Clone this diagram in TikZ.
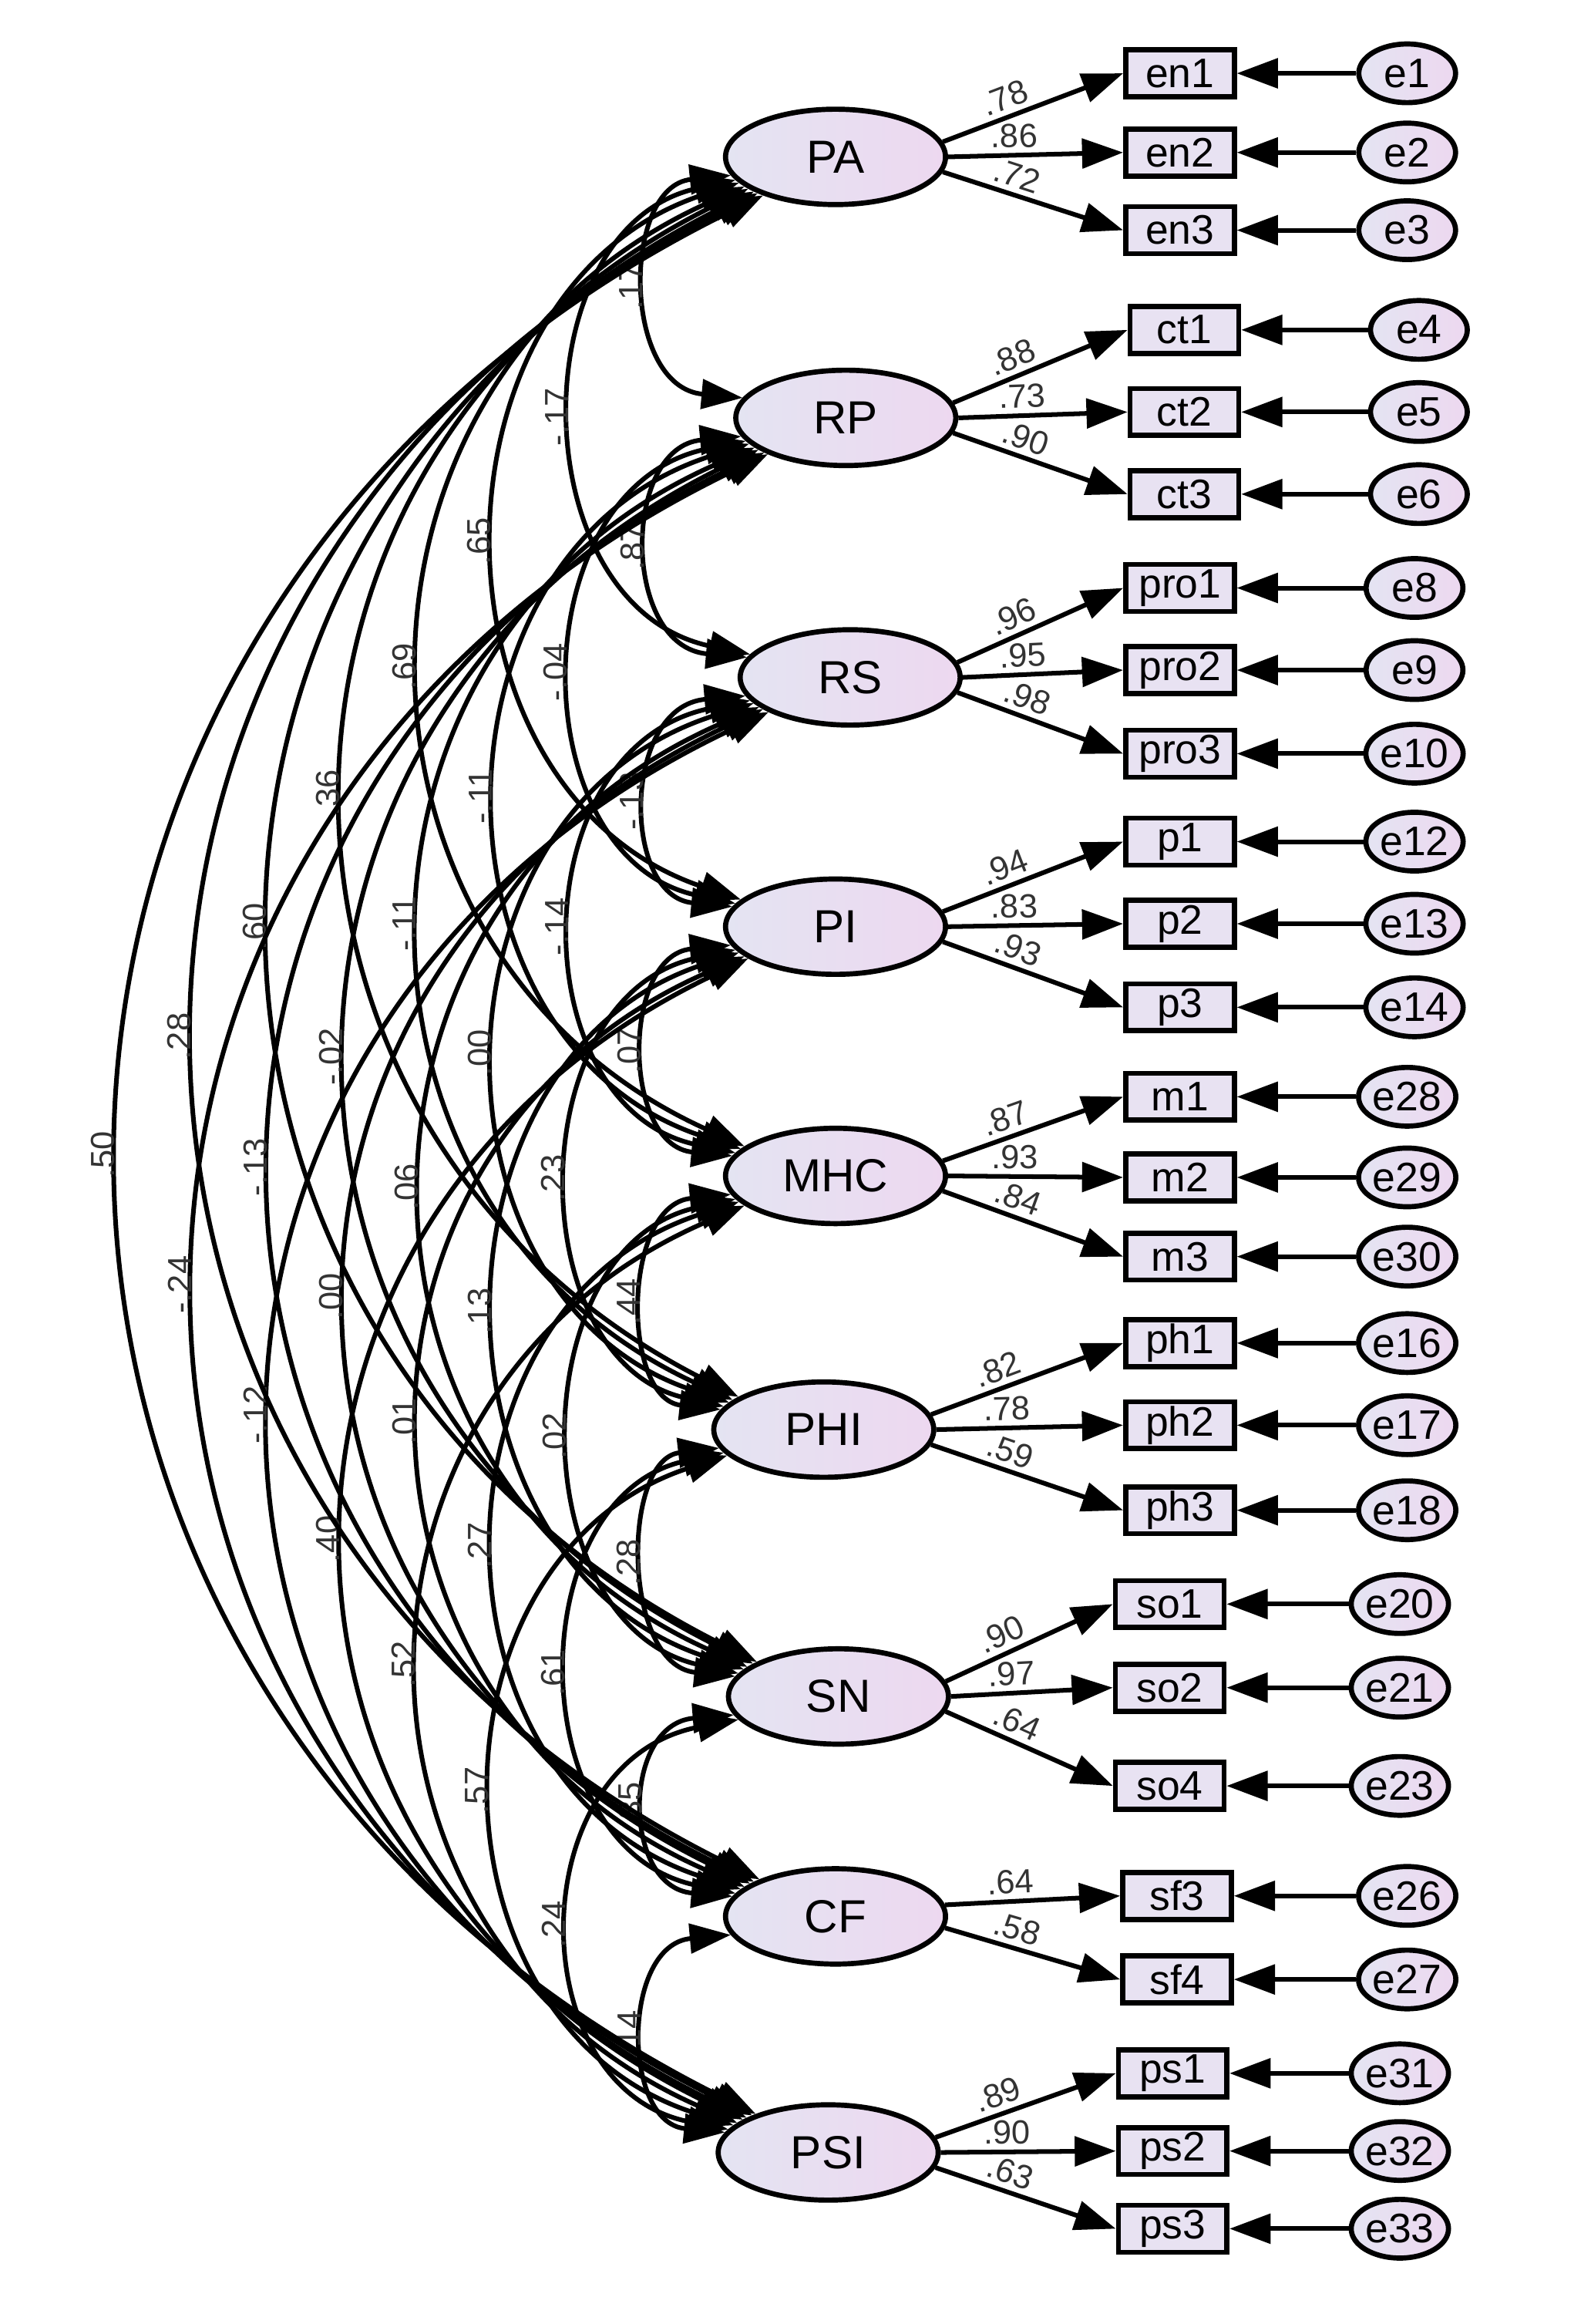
\documentclass[tikz,border=0pt]{standalone}
\usepackage{fontspec}
\setmainfont{Liberation Sans}
\usetikzlibrary{arrows.meta,shapes.geometric,calc}
\definecolor{lavL}{HTML}{E4E4F2}
\definecolor{lavR}{HTML}{EDD8F0}
\definecolor{boxF}{HTML}{E8E2F2}
\definecolor{numC}{HTML}{333333}
\tikzset{
  lat/.style={ellipse,draw,line width=1pt,minimum width=1.5cm,minimum height=0.65cm,left color=lavL,right color=lavR,font=\fontsize{9}{9}\selectfont,inner sep=0pt},
  obs/.style={rectangle,draw,line width=1pt,minimum width=0.74cm,minimum height=0.32cm,fill=boxF,font=\fontsize{8}{8}\selectfont,inner sep=0pt},
  err/.style={ellipse,draw,line width=1pt,minimum width=0.66cm,minimum height=0.4cm,left color=lavL,right color=lavR,font=\fontsize{8}{8}\selectfont,inner sep=0pt},
  arr/.style={line width=0.9pt,-{Triangle[length=0.28cm,width=0.2cm]}},
  cov/.style={line width=0.9pt,{Triangle[length=0.28cm,width=0.2cm]}-{Triangle[length=0.28cm,width=0.2cm]}},
  lab/.style={font=\fontsize{6.5}{6.5}\selectfont,text=numC,inner sep=1pt},
}
\begin{document}
\begin{tikzpicture}[x=0.01cm,y=-0.01cm]
\useasboundingbox (0,0) rectangle (1085,1585);
% latent
\node[lat] (PA) at (570,107) {PA};
\node[lat] (RP) at (577,285) {RP};
\node[lat] (RS) at (580,462) {RS};
\node[lat] (PI) at (570,632) {PI};
\node[lat] (MHC) at (570,802) {MHC};
\node[lat] (PHI) at (562,975) {PHI};
\node[lat] (SN) at (572,1157) {SN};
\node[lat] (CF) at (570,1307) {CF};
\node[lat] (PSI) at (565,1468) {PSI};
% indicators: latent/name/boxx/boxy/err/errx/loading/angle
\foreach \L/\n/\bx/\by/\e/\ex/\v/\a in {
PA/en1/805/50/e1/960/.78/8, PA/en2/805/104/e2/960/.86/0, PA/en3/805/157/e3/960/.72/-8,
RP/ct1/808/225/e4/968/.88/8, RP/ct2/808/281/e5/968/.73/0, RP/ct3/808/337/e6/968/.90/-8,
RS/pro1/805/401/e8/965/.96/8, RS/pro2/805/457/e9/965/.95/0, RS/pro3/805/514/e10/965/.98/-8,
PI/p1/805/574/e12/965/.94/8, PI/p2/805/630/e13/965/.83/0, PI/p3/805/687/e14/965/.93/-8,
MHC/m1/805/748/e28/960/.87/8, MHC/m2/805/803/e29/960/.93/0, MHC/m3/805/857/e30/960/.84/-8,
PHI/ph1/805/916/e16/960/.82/8, PHI/ph2/805/972/e17/960/.78/0, PHI/ph3/805/1030/e18/960/.59/-8,
SN/so1/798/1094/e20/955/.90/8, SN/so2/798/1151/e21/955/.97/0, SN/so4/798/1218/e23/955/.64/-8,
CF/sf3/803/1293/e26/960/.64/6, CF/sf4/803/1350/e27/960/.58/-6,
PSI/ps1/800/1414/e31/955/.89/8, PSI/ps2/800/1467/e32/955/.90/0, PSI/ps3/800/1520/e33/955/.63/-8}{
  \node[obs] (\n) at (\bx,\by) {\n};
  \node[err] (\e) at (\ex,\by) {\e};
  \draw[arr] (\L.\a) -- node[lab,pos=0.38,sloped,above] {\v} (\n.west);
  \draw[arr] (\e.west) -- (\n.east);
}
% covariances: A/B/span/label
\foreach \A/\B/\k/\v in {
PA/RP/1/.17, RP/RS/1/.87, RS/PI/1/-.13, PI/MHC/1/.07, MHC/PHI/1/.44, PHI/SN/1/.28, SN/CF/1/.35, CF/PSI/1/.14,
PA/RS/2/-.17, RP/PI/2/-.04, RS/MHC/2/-.14, PI/PHI/2/.23, MHC/SN/2/.02, PHI/CF/2/.61, SN/PSI/2/.24,
PA/PI/3/.65, RP/MHC/3/-.11, RS/PHI/3/.00, PI/SN/3/.13, MHC/CF/3/.27, PHI/PSI/3/.57,
PA/MHC/4/.69, RP/PHI/4/-.11, RS/SN/4/.06, PI/CF/4/.01, MHC/PSI/4/.52,
PA/PHI/5/.36, RP/SN/5/-.02, RS/CF/5/.00, PI/PSI/5/.40,
PA/SN/6/.60, RP/CF/6/-.13, RS/PSI/6/-.12,
PA/CF/7/.28, RP/PSI/7/-.24,
PA/PSI/8/.50}{
  \pgfmathsetmacro{\X}{(370-52*\k)/0.75}
  \pgfmathsetmacro{\aU}{188+2.5*\k}
  \pgfmathsetmacro{\aL}{172-2.5*\k}
  \pgfmathsetmacro{\fr}{min(0.22,0.05*\k)}
  \draw[cov] let \p1=(\A.\aU), \p2=(\B.\aL) in
    (\A.\aU) .. controls ({\X*0.01cm},{\y1+\fr*(\y2-\y1)}) and ({\X*0.01cm},{\y2-\fr*(\y2-\y1)}) .. node[lab,midway,rotate=90,above] {\v} (\B.\aL);
}
\end{tikzpicture}
\end{document}
